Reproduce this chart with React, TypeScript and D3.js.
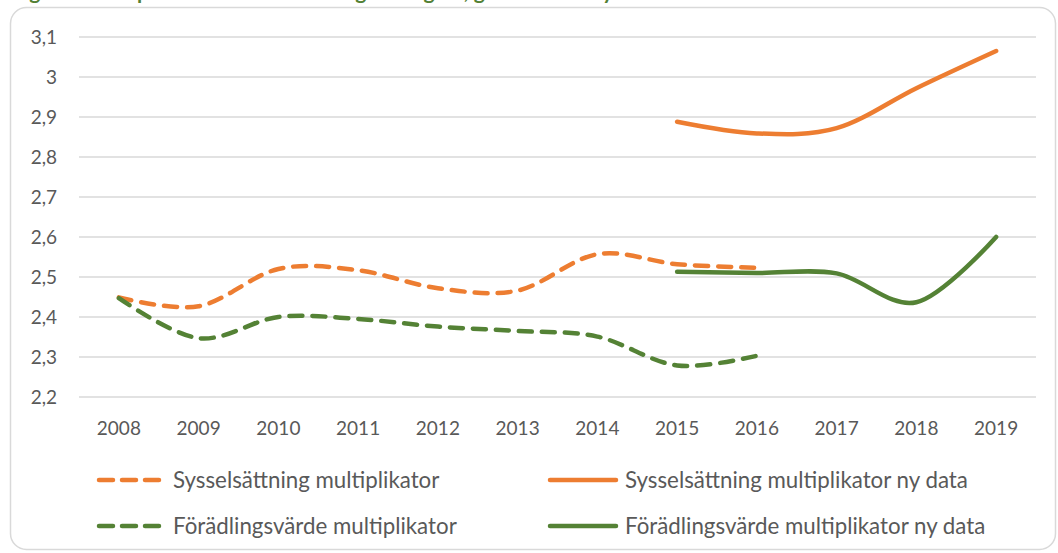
import React from "react";
import * as d3 from "d3";

const years = ["2008","2009","2010","2011","2012","2013","2014","2015","2016","2017","2018","2019"];
const syssOld = [2.449, 2.427, 2.52, 2.517, 2.472, 2.466, 2.557, 2.532, 2.523];
const forOld = [2.447, 2.347, 2.4, 2.395, 2.376, 2.365, 2.351, 2.279, 2.303];
const syssNewYears = ["2015","2016","2017","2018","2019"];
const syssNew = [2.888, 2.859, 2.872, 2.972, 3.065];
const forNew = [2.513, 2.51, 2.509, 2.437, 2.6];
const yTicks = [2.2, 2.3, 2.4, 2.5, 2.6, 2.7, 2.8, 2.9, 3.0, 3.1];
const legendItems = [
  { label: "Sysselsättning multiplikator", color: "#ED7D31", dashed: true },
  { label: "Sysselsättning multiplikator ny data", color: "#ED7D31", dashed: false },
  { label: "Förädlingsvärde multiplikator", color: "#548235", dashed: true },
  { label: "Förädlingsvärde multiplikator ny data", color: "#548235", dashed: false },
];
const title = "Figur 5. Multiplikatorer i besöksnäringen i region, gammal och ny data";

const W = 1058, H = 553;
const FONT = "Lato, 'Open Sans', sans-serif";

export default function App() {
  const x = d3.scaleBand<string>().domain(years).range([79, 1036]);
  const y = d3.scaleLinear().domain([2.2, 3.1]).range([397, 37]);
  const cx = (yr: string) => (x(yr) as number) + x.bandwidth() / 2;
  const line = d3.line<[string, number]>()
    .x(d => cx(d[0]))
    .y(d => y(d[1]))
    .curve(d3.curveCardinal.tension(0));
  const fmt = (v: number) => (Math.round(v * 10) / 10).toString().replace(".", ",");

  const series = [
    { yrs: years.slice(0, syssOld.length), vals: syssOld, color: "#ED7D31", dashed: true },
    { yrs: years.slice(0, forOld.length), vals: forOld, color: "#548235", dashed: true },
    { yrs: syssNewYears, vals: syssNew, color: "#ED7D31", dashed: false },
    { yrs: syssNewYears, vals: forNew, color: "#548235", dashed: false },
  ];

  const legendPos = [
    { lx: 97, ly: 480 }, { lx: 548, ly: 480 },
    { lx: 97, ly: 526 }, { lx: 548, ly: 526 },
  ];

  return (
    <div style={{ position: "fixed", left: 0, top: 0 }}>
      <svg width={W} height={H} style={{ display: "block", background: "#fff" }}>
        <text x={12} y={-1} fontFamily={FONT} fontWeight="bold" fontSize={21} fill="#538135">{title}</text>
        <rect x={10.5} y={7.5} width={1045} height={542} rx={16} ry={16} fill="none" stroke="#d9d9d9" strokeWidth={1.5} />
        {yTicks.map(t => (
          <g key={t}>
            <line x1={79} x2={1036} y1={y(t)} y2={y(t)} stroke="#d9d9d9" strokeWidth={1.5} />
            <text x={57} y={y(t)} dy="0.35em" textAnchor="end" fontFamily={FONT} fontSize={19} fill="#595959">{fmt(t)}</text>
          </g>
        ))}
        {years.map(yr => (
          <text key={yr} x={cx(yr)} y={428} dy="0.35em" textAnchor="middle" fontFamily={FONT} fontSize={19} fill="#595959">{yr}</text>
        ))}
        {series.map((s, i) => (
          <path key={i}
            d={line(s.yrs.map((yr, j) => [yr, s.vals[j]] as [string, number])) || ""}
            fill="none" stroke={s.color} strokeWidth={4.5}
            strokeLinecap="round" strokeLinejoin="round"
            strokeDasharray={s.dashed ? "13 10" : undefined} />
        ))}
        {legendItems.map((it, i) => {
          const p = legendPos[i];
          const len = it.dashed ? 65 : 70;
          return (
            <g key={it.label}>
              <line x1={p.lx + 2} x2={p.lx + len - 2} y1={p.ly} y2={p.ly} stroke={it.color} strokeWidth={4.5}
                strokeLinecap="round" strokeDasharray={it.dashed ? "14 9" : undefined} />
              <text x={p.lx + len + (it.dashed ? 11 : 7)} y={p.ly} dy="0.35em" fontFamily={FONT} fontSize={22.3} fill="#595959">{it.label}</text>
            </g>
          );
        })}
      </svg>
    </div>
  );
}
